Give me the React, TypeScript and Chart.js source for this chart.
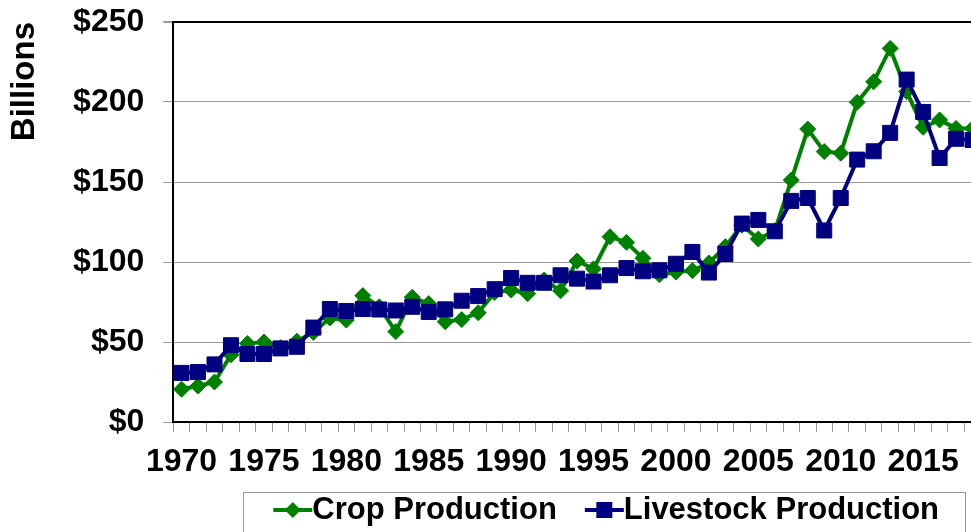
import React, { useEffect, useRef } from 'react';
import { Chart, registerables } from 'chart.js';

Chart.register(...registerables);

const years = [
  1970, 1971, 1972, 1973, 1974, 1975, 1976, 1977, 1978, 1979,
  1980, 1981, 1982, 1983, 1984, 1985, 1986, 1987, 1988, 1989,
  1990, 1991, 1992, 1993, 1994, 1995, 1996, 1997, 1998, 1999,
  2000, 2001, 2002, 2003, 2004, 2005, 2006, 2007, 2008, 2009,
  2010, 2011, 2012, 2013, 2014, 2015, 2016, 2017, 2018,
];

const cropProduction = [
  20.5, 22.5, 25, 42, 49, 50, 46.5, 50.5, 56, 65,
  63.7, 79, 72, 56.5, 78, 74, 62.7, 64, 68.3, 81,
  82.5, 80.2, 88.7, 82, 100.6, 95.7, 115.8, 112.3, 102.3, 92,
  93.7, 94.6, 99.4, 109.6, 123, 114.4, 119.5, 151.2, 183.1, 169,
  168, 199.8, 212.7, 233.5, 206.5, 184.2, 188.8, 183.5, 183.5,
];

const livestockProduction = [
  30.7, 31.2, 36, 48, 42.5, 42.5, 46, 47, 59, 70.6,
  69.4, 70.6, 70.3, 69.7, 72, 68.8, 70.4, 75.8, 78.7, 83,
  90, 87, 87, 91.7, 89.6, 87.8, 91.7, 96.2, 94.2, 94.8,
  98.9, 106.3, 93.4, 105, 124, 126.3, 119.2, 138.2, 140, 119.7,
  140, 164, 169.2, 180.7, 214, 193.8, 165, 177, 176.3,
];

const yMin = 0;
const yMax = 250;
const yStep = 50;

const FONT = "'Liberation Sans', Arial, Helvetica, sans-serif";
const GREEN = '#008000';
const NAVY = '#000080';
const GRID = '#9a9a9a';

const boxedLegend = {
  id: 'boxedLegend',
  afterDraw(chart: any) {
    const { ctx, chartArea } = chart;
    const datasets = chart.data.datasets;
    ctx.save();
    ctx.font = `bold 31px ${FONT}`;
    ctx.textBaseline = 'middle';
    ctx.textAlign = 'left';
    const glyphW = 39;
    const itemGap = 28;
    const startX = chartArea.left + 100;
    const midY = chart.height - 22;
    let x = startX;
    datasets.forEach((ds: any, i: number) => {
      const color = ds.borderColor;
      ctx.strokeStyle = color;
      ctx.lineWidth = 4;
      ctx.beginPath();
      ctx.moveTo(x, midY);
      ctx.lineTo(x + glyphW, midY);
      ctx.stroke();
      const cx = x + glyphW / 2;
      ctx.fillStyle = color;
      ctx.beginPath();
      if (ds.pointStyle === 'rectRot') {
        const r = 8;
        ctx.moveTo(cx - r, midY);
        ctx.lineTo(cx, midY - r);
        ctx.lineTo(cx + r, midY);
        ctx.lineTo(cx, midY + r);
        ctx.closePath();
      } else {
        const s = 8;
        ctx.rect(cx - s, midY - s, 2 * s, 2 * s);
      }
      ctx.fill();
      x += glyphW;
      ctx.fillStyle = '#000';
      ctx.fillText(ds.label, x, midY);
      x += ctx.measureText(ds.label).width;
      if (i < datasets.length - 1) x += itemGap;
    });
    const boxLeft = startX - 30;
    const boxRight = x + 26;
    const boxTop = chart.height - 40;
    ctx.strokeStyle = GRID;
    ctx.lineWidth = 1;
    ctx.strokeRect(Math.round(boxLeft) + 0.5, boxTop + 0.5, Math.round(boxRight - boxLeft), 80);
    ctx.restore();
  },
};

export default function App() {
  const canvasRef = useRef<HTMLCanvasElement | null>(null);

  useEffect(() => {
    if (!canvasRef.current) return;
    const chart = new Chart(canvasRef.current, {
      type: 'line',
      data: {
        labels: years.map(String),
        datasets: [
          {
            label: 'Crop Production',
            data: cropProduction,
            borderColor: GREEN,
            backgroundColor: GREEN,
            borderWidth: 4,
            pointStyle: 'rectRot',
            pointRadius: 8,
            pointBorderWidth: 1,
            pointBackgroundColor: GREEN,
            pointBorderColor: GREEN,
            tension: 0,
            order: 1,
          },
          {
            label: 'Livestock Production',
            data: livestockProduction,
            borderColor: NAVY,
            backgroundColor: NAVY,
            borderWidth: 4,
            pointStyle: 'rect',
            pointRadius: 10.6,
            pointBorderWidth: 1,
            pointBackgroundColor: NAVY,
            pointBorderColor: NAVY,
            tension: 0,
            order: 0,
          },
        ],
      },
      options: {
        animation: false,
        responsive: false,
        devicePixelRatio: 1,
        layout: { padding: { left: 0, right: 19.2, top: 22, bottom: 0 } },
        plugins: {
          legend: { display: false },
          tooltip: { enabled: false },
        },
        scales: {
          x: {
            type: 'category',
            offset: true,
            grid: {
              display: true,
              drawOnChartArea: false,
              drawTicks: true,
              tickLength: 10,
              tickColor: GRID,
              offset: true,
            },
            border: { display: true, color: '#000', width: 2 },
            ticks: {
              autoSkip: false,
              maxRotation: 0,
              minRotation: 0,
              padding: 11,
              color: '#000',
              font: { family: FONT, size: 32, weight: 'bold' },
              callback: (_v: any, i: number) => (years[i] % 5 === 0 ? String(years[i]) : ''),
            },
            afterFit: (s: any) => {
              s.height = 110;
            },
          },
          y: {
            min: yMin,
            max: yMax,
            grid: {
              color: (c: any) => (c.tick && c.tick.value === yMax ? '#000' : GRID),
              lineWidth: (c: any) => (c.tick && c.tick.value === yMax ? 2 : 1),
              tickColor: GRID,
              tickLength: 10,
            },
            border: { display: true, color: '#000', width: 2 },
            ticks: {
              stepSize: yStep,
              padding: 19,
              color: '#000',
              font: { family: FONT, size: 32, weight: 'bold' },
              callback: (v: any) => '$' + v,
            },
            title: {
              display: true,
              text: 'Billions',
              align: 'end',
              color: '#000',
              font: { family: FONT, size: 33, weight: 'bold' },
              padding: { top: 5, bottom: 0 },
            },
            afterFit: (s: any) => {
              s.width = 173.3;
              s.paddingTop = 0;
              s.paddingBottom = 0;
            },
          },
        },
      },
      plugins: [boxedLegend],
    });
    return () => chart.destroy();
  }, []);

  return (
    <div
      style={{
        position: 'fixed',
        left: 0,
        top: 0,
        width: 971,
        height: 532,
        overflow: 'hidden',
        background: '#fff',
      }}
    >
      <canvas ref={canvasRef} width={1000} height={532} style={{ display: 'block' }} />
    </div>
  );
}
